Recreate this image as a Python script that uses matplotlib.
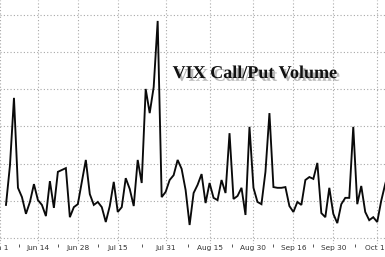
import matplotlib
matplotlib.use("Agg")
import matplotlib.pyplot as plt
import matplotlib.patheffects as pe
import numpy as np

# VIX call/put volume ratio, one value per trading day
ratio = [1.89, 2.96, 4.77, 2.35, 2.10, 1.65, 1.97, 2.45, 2.02, 1.89,
         1.59, 2.53, 1.81, 2.78, 2.83, 2.88, 1.56, 1.83, 1.91, 2.51,
         3.10, 2.18, 1.89, 1.97, 1.83, 1.43, 1.86, 2.51, 1.70, 1.83,
         2.61, 2.32, 1.86, 3.10, 2.48, 5.01, 4.36, 5.06, 6.84, 2.10,
         2.24, 2.56, 2.69, 3.10, 2.86, 2.29, 1.35, 2.21, 2.43, 2.72,
         1.94, 2.48, 2.08, 2.02, 2.56, 2.21, 3.82, 2.05, 2.13, 2.35,
         1.62, 3.99, 2.35, 1.97, 1.91, 2.78, 4.36, 2.37, 2.35, 2.35,
         2.37, 1.86, 1.70, 1.97, 1.89, 2.56, 2.64, 2.59, 3.02, 1.67,
         1.56, 2.35, 1.65, 1.40, 1.91, 2.08, 2.08, 3.99, 1.91, 2.40,
         1.70, 1.48, 1.56, 1.43, 2.00, 2.45, 2.83]
day_idx = np.arange(len(ratio))

tick_labels = ["Jun 1", "Jun 14", "Jun 28", "Jul 15", "Jul 31",
               "Aug 15", "Aug 30", "Sep 16", "Sep 30", "Oct 15"]
tick_pos = [-1.5, 8, 18, 28, 40, 51, 62, 72, 82, 93]
grid_levels = [1, 2, 3, 4, 5, 6, 7]

title = "VIX Call/Put Volume"

W, H = 385, 257
fig = plt.figure(figsize=(W / 100, H / 100), dpi=100)
fig.patch.set_facecolor("white")
ax = fig.add_axes([0, 13 / H, 1, 1 - 13 / H])
ax.set_facecolor("white")

ax.plot(day_idx, ratio, color="#0a0a0a", lw=1.35, solid_joinstyle="miter", zorder=3)

ax.set_xlim(0.354, 94.95)
ax.set_ylim(1 - 6 / 37.17, 1 + 238 / 37.17)

for s in ax.spines.values():
    s.set_visible(False)

ax.set_yticks(grid_levels)
ax.tick_params(axis="y", left=False, labelleft=False)

ax.set_xticks(tick_pos)
ax.set_xticklabels(tick_labels, fontsize=5.3, color="#333333", family="DejaVu Sans")
mids = [(a + b) / 2 for a, b in zip(tick_pos[:-1], tick_pos[1:])]
ax.set_xticks(mids, minor=True)
ax.tick_params(axis="x", which="major", length=0, pad=1.0)
ax.tick_params(axis="x", which="minor", length=2.2, width=0.7, color="#555555", direction="out")

ax.grid(True, which="major", color="#a8a8a8", linestyle=(0, (1, 2)), lw=0.8, zorder=1)

fig.text(254.5 / W, 1 - 78 / H, title, ha="center", va="baseline",
         fontsize=13, fontweight="bold", family="Liberation Serif", color="#111111",
         path_effects=[pe.SimplePatchShadow(offset=(2, -2), shadow_rgbFace="#808080", alpha=0.55),
                       pe.Normal()])

fig.savefig("out.png", dpi=100)
